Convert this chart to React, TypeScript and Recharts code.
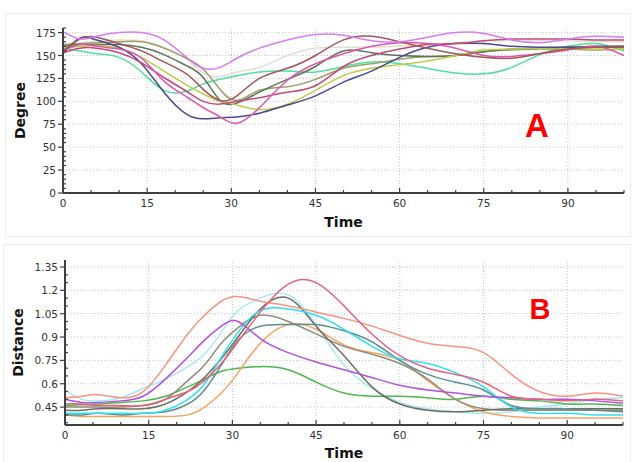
import React from 'react';
import { LineChart, Line, XAxis, YAxis, ReferenceLine } from 'recharts';

// sample times shared by every curve
const time = [0, 3, 6, 10, 14, 18, 22, 25, 28, 31, 35, 40, 45, 50, 55, 60, 65, 70, 75, 80, 85, 90, 95, 100];

// panel A - Degree
const degViolet = [176, 168, 171, 175, 175, 167, 148, 136, 137, 147, 158, 167, 173, 172, 166, 165, 170, 175, 174, 167, 164, 168, 171, 170];
const degBrown = [155, 168, 170, 163, 155, 143, 130, 113, 101, 106, 125, 136, 150, 167, 171, 165, 158, 152, 148, 147, 152, 157, 159, 160];
const degDarkOlive = [160, 162, 162, 162, 159, 151, 139, 126, 101, 98, 110, 124, 138, 155, 153, 150, 149, 150, 154, 157, 158, 159, 159, 159];
const degOlive = [162, 163, 164, 165, 165, 158, 147, 135, 113, 101, 112, 116, 124, 136, 141, 146, 149, 150, 154, 156, 157, 157, 156, 157];
const degBeige = [160, 163, 166, 167, 166, 159, 146, 131, 127, 132, 137, 150, 158, 159, 159, 160, 162, 164, 166, 166, 166, 166, 165, 165];
const degGreen = [158, 155, 152, 148, 132, 112, 111, 119, 124, 128, 132, 133, 132, 138, 143, 141, 136, 131, 130, 137, 151, 160, 163, 155];
const degNavy = [152, 169, 167, 159, 141, 110, 86, 81, 82, 83, 87, 96, 106, 121, 133, 148, 159, 163, 163, 160, 159, 159, 160, 160];
const degPink = [155, 162, 160, 157, 147, 122, 105, 93, 83, 76, 93, 123, 141, 152, 160, 164, 163, 158, 150, 149, 152, 156, 160, 150];
const degCrimson = [153, 158, 158, 153, 142, 126, 111, 100, 97, 100, 104, 110, 117, 138, 150, 157, 162, 163, 166, 168, 168, 168, 167, 167];
const degYellow = [158, 160, 161, 158, 148, 133, 118, 108, 100, 96, 91, 97, 112, 128, 136, 140, 144, 150, 156, 157, 158, 158, 157, 157];

// panel B - Distance
const distSalmon = [0.51, 0.52, 0.53, 0.51, 0.55, 0.72, 0.92, 1.04, 1.13, 1.16, 1.13, 1.1, 1.06, 1.02, 0.97, 0.91, 0.86, 0.84, 0.8, 0.66, 0.55, 0.52, 0.54, 0.52];
const distRed = [0.47, 0.47, 0.46, 0.46, 0.46, 0.5, 0.55, 0.62, 0.73, 0.87, 1.06, 1.24, 1.25, 1.1, 0.92, 0.78, 0.7, 0.66, 0.61, 0.52, 0.5, 0.49, 0.5, 0.49];
const distLightCyan = [0.56, 0.5, 0.49, 0.51, 0.57, 0.63, 0.71, 0.79, 0.93, 1.07, 1.15, 1.17, 0.98, 0.72, 0.57, 0.48, 0.44, 0.42, 0.41, 0.42, 0.45, 0.47, 0.5, 0.51];
const distCyan = [0.41, 0.41, 0.41, 0.41, 0.41, 0.43, 0.5, 0.6, 0.77, 0.93, 1.07, 1.08, 1.04, 0.95, 0.84, 0.76, 0.73, 0.67, 0.58, 0.45, 0.41, 0.41, 0.4, 0.4];
const distPurple = [0.5, 0.48, 0.48, 0.49, 0.52, 0.63, 0.77, 0.88, 0.97, 1.0, 0.89, 0.8, 0.74, 0.69, 0.64, 0.59, 0.56, 0.54, 0.52, 0.51, 0.5, 0.5, 0.49, 0.475];
const distGreen = [0.46, 0.465, 0.47, 0.48, 0.49, 0.52, 0.58, 0.63, 0.68, 0.7, 0.71, 0.69, 0.61, 0.54, 0.52, 0.52, 0.51, 0.5, 0.52, 0.5, 0.49, 0.47, 0.47, 0.46];
const distOrange = [0.4, 0.39, 0.39, 0.39, 0.39, 0.39, 0.4, 0.45, 0.54, 0.67, 0.86, 0.98, 0.95, 0.85, 0.8, 0.75, 0.62, 0.5, 0.42, 0.39, 0.38, 0.38, 0.38, 0.38];
const distTeal = [0.4, 0.4, 0.41, 0.4, 0.41, 0.42, 0.47, 0.56, 0.72, 0.88, 0.97, 0.98, 0.98, 0.94, 0.87, 0.75, 0.66, 0.61, 0.56, 0.46, 0.44, 0.44, 0.43, 0.42];
const distSlowGray = [0.45, 0.45, 0.45, 0.45, 0.46, 0.5, 0.62, 0.72, 0.86, 0.96, 1.04, 1.0, 0.92, 0.84, 0.79, 0.73, 0.63, 0.5, 0.44, 0.43, 0.43, 0.43, 0.43, 0.43];
const distDarkGray = [0.43, 0.43, 0.44, 0.44, 0.44, 0.47, 0.55, 0.64, 0.76, 0.9, 1.08, 1.15, 0.97, 0.78, 0.58, 0.47, 0.43, 0.42, 0.43, 0.44, 0.44, 0.44, 0.44, 0.44];

// tick labels
const timeTicks = [0, 15, 30, 45, 60, 75, 90];
const degreeTicks = [0, 25, 50, 75, 100, 125, 150, 175];
const distanceTicks = [0.45, 0.6, 0.75, 0.9, 1.05, 1.2, 1.35];

const degSeries = [
  { values: degBeige, color: '#e0e0d2' },
  { values: degGreen, color: '#4fdf9e' },
  { values: degOlive, color: '#9aa06a' },
  { values: degDarkOlive, color: '#5f7352' },
  { values: degYellow, color: '#bccc4a' },
  { values: degNavy, color: '#4a4890' },
  { values: degCrimson, color: '#c24a78' },
  { values: degPink, color: '#e255b0' },
  { values: degBrown, color: '#a3575a' },
  { values: degViolet, color: '#d77cf2' },
];

const distSeries = [
  { values: distLightCyan, color: '#a6e9f2' },
  { values: distGreen, color: '#4cb84c' },
  { values: distOrange, color: '#f7a363' },
  { values: distSlowGray, color: '#8f8c7a' },
  { values: distDarkGray, color: '#6e6e60' },
  { values: distTeal, color: '#5b8f8e' },
  { values: distCyan, color: '#2ee0f2' },
  { values: distPurple, color: '#b350e0' },
  { values: distSalmon, color: '#f7937f' },
  { values: distRed, color: '#e8607a' },
];

const buildRows = (series: { values: number[] }[]) =>
  time.map((t, i) => {
    const row: Record<string, number> = { t };
    series.forEach((s, k) => {
      row['s' + k] = s.values[i];
    });
    return row;
  });

const degRows = buildRows(degSeries);
const distRows = buildRows(distSeries);

const minorTime: number[] = [];
for (let v = 0; v <= 100; v += 5) minorTime.push(v);
const minorDegree: number[] = [];
for (let v = 0; v <= 180; v += 5) minorDegree.push(v);
const minorDistance: number[] = [];
for (let k = 35; k <= 135; k += 5) minorDistance.push(k / 100);

const FONT = '"DejaVu Sans", Verdana, sans-serif';
const AXIS = '#404040';
const GRID = '#c4c4c4';

const XTick = (props: any) => {
  const { x, y, payload } = props;
  const v = payload.value;
  const major = timeTicks.includes(v);
  return (
    <g>
      <line x1={x} x2={x} y1={y} y2={y - (major ? 5 : 3)} stroke={AXIS} strokeWidth={1.2} />
      {major && (
        <text x={x} y={y + 14} textAnchor="middle" fontSize={10.5} fill="#333" fontFamily={FONT}>
          {v}
        </text>
      )}
    </g>
  );
};

const makeYTick = (majors: number[]) => (props: any) => {
  const { x, y, payload } = props;
  const v = payload.value;
  const major = majors.some((m) => Math.abs(m - v) < 1e-6);
  return (
    <g>
      <line x1={x} x2={major ? x - 5 : x + 3} y1={y} y2={y} stroke={AXIS} strokeWidth={1.2} />
      {major && (
        <text x={x - 7} y={y + 4} textAnchor="end" fontSize={10.5} fill="#333" fontFamily={FONT}>
          {String(Math.round(v * 100) / 100)}
        </text>
      )}
    </g>
  );
};

const DegTick = makeYTick(degreeTicks);
const DistTick = makeYTick(distanceTicks);

const titleStyle = { fontSize: 14, fontWeight: 700, fill: '#111', fontFamily: FONT };

const App: React.FC = () => {
  return (
    <div style={{ position: 'absolute', left: 0, top: 0, width: 634, height: 462, background: '#fff' }}>
      <div style={{ position: 'absolute', left: 5, top: 13, width: 624, height: 222, border: '1px solid #eeeeee' }} />
      <div style={{ position: 'absolute', left: 3, top: 244, width: 626, height: 230, border: '1px solid #eeeeee' }} />

      <div style={{ position: 'absolute', left: 0, top: 0 }}>
        <LineChart width={634} height={232} data={degRows} margin={{ top: 28, right: 10, left: 0, bottom: 0 }}>
          <XAxis
            dataKey="t"
            type="number"
            domain={[0, 100]}
            ticks={minorTime}
            interval={0}
            tickLine={false}
            tickSize={0}
            tickMargin={0}
            tick={<XTick />}
            height={39}
            axisLine={{ stroke: AXIS, strokeWidth: 2 }}
            label={{ value: 'Time', position: 'insideBottom', offset: 5, style: titleStyle }}
          />
          <YAxis
            type="number"
            domain={[0, 180]}
            ticks={minorDegree}
            interval={0}
            tickLine={false}
            tickSize={0}
            tickMargin={0}
            tick={<DegTick />}
            width={63}
            axisLine={{ stroke: AXIS, strokeWidth: 2 }}
            label={{ value: 'Degree', angle: -90, position: 'insideLeft', offset: 20, style: { ...titleStyle, textAnchor: 'middle' } }}
          />
          {degreeTicks.filter((v) => v > 0).map((v) => (
            <ReferenceLine key={'hy' + v} y={v} stroke={GRID} strokeDasharray="1 2" />
          ))}
          {timeTicks.filter((v) => v > 0).map((v) => (
            <ReferenceLine key={'hx' + v} x={v} stroke={GRID} strokeDasharray="1 2" />
          ))}
          {degSeries.map((s, k) => (
            <Line
              key={k}
              type="natural"
              dataKey={'s' + k}
              stroke={s.color}
              strokeWidth={1.5}
              dot={false}
              isAnimationActive={false}
            />
          ))}
        </LineChart>
      </div>

      <div style={{ position: 'absolute', left: 0, top: 232 }}>
        <LineChart width={634} height={230} data={distRows} margin={{ top: 28, right: 11, left: 0, bottom: 0 }}>
          <XAxis
            dataKey="t"
            type="number"
            domain={[0, 100]}
            ticks={minorTime}
            interval={0}
            tickLine={false}
            tickSize={0}
            tickMargin={0}
            tick={<XTick />}
            height={37}
            axisLine={{ stroke: AXIS, strokeWidth: 2 }}
            label={{ value: 'Time', position: 'insideBottom', offset: 4, style: titleStyle }}
          />
          <YAxis
            type="number"
            domain={[0.335, 1.395]}
            ticks={minorDistance}
            interval={0}
            tickLine={false}
            tickSize={0}
            tickMargin={0}
            tick={<DistTick />}
            width={65}
            axisLine={{ stroke: AXIS, strokeWidth: 2 }}
            label={{ value: 'Distance', angle: -90, position: 'insideLeft', offset: 18, style: { ...titleStyle, textAnchor: 'middle' } }}
          />
          {distanceTicks.map((v) => (
            <ReferenceLine key={'by' + v} y={v} stroke={GRID} strokeDasharray="1 2" />
          ))}
          {timeTicks.filter((v) => v > 0).map((v) => (
            <ReferenceLine key={'bx' + v} x={v} stroke={GRID} strokeDasharray="1 2" />
          ))}
          {distSeries.map((s, k) => (
            <Line
              key={k}
              type="natural"
              dataKey={'s' + k}
              stroke={s.color}
              strokeWidth={1.5}
              dot={false}
              isAnimationActive={false}
            />
          ))}
        </LineChart>
      </div>

      <svg width={634} height={462} style={{ position: 'absolute', left: 0, top: 0, pointerEvents: 'none' }}>
        <text x={537} y={137} textAnchor="middle" fontSize={33} fontWeight={700} fill="#ff0000" fontFamily='"Liberation Sans", Arial, sans-serif'>
          A
        </text>
        <text x={540} y={319} textAnchor="middle" fontSize={29} fontWeight={700} fill="#ff0000" fontFamily='"Liberation Sans", Arial, sans-serif'>
          B
        </text>
      </svg>
    </div>
  );
};

export default App;
